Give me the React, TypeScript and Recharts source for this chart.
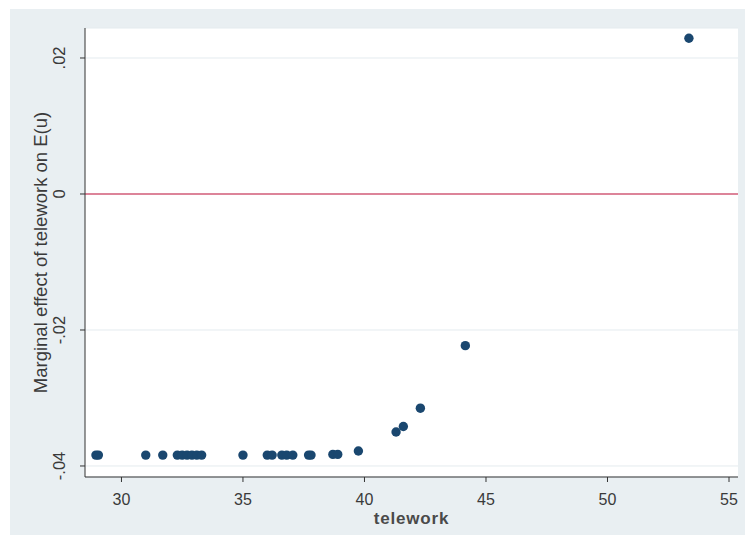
import { ScatterChart, Scatter, XAxis, YAxis, CartesianGrid, ReferenceLine } from "recharts";

const telework = [
  28.95, 29.05, 31.0, 31.7, 32.3, 32.5, 32.7, 32.9, 33.1, 33.3, 35.0, 36.0, 36.2,
  36.6, 36.8, 37.05, 37.7, 37.8, 38.7, 38.9, 39.75, 41.3, 41.6, 42.3, 44.15, 53.35,
];
const marginalEffect = [
  -0.0384, -0.0384, -0.0384, -0.0384, -0.0384, -0.0384, -0.0384, -0.0384, -0.0384,
  -0.0384, -0.0384, -0.0384, -0.0384, -0.0384, -0.0384, -0.0384, -0.0384, -0.0384,
  -0.0383, -0.0383, -0.0378, -0.035, -0.0342, -0.0315, -0.0223, 0.0229,
];
const xTicks = [30, 35, 40, 45, 50, 55];
const yTicks = [-0.04, -0.02, 0, 0.02];

const points = telework.map((t, i) => ({ telework: t, effect: marginalEffect[i] }));

// stata style: .02, -.04
const fmtY = (v: number) => {
  if (v === 0) return "0";
  const s = String(Math.abs(v)).replace(/^0/, "");
  return v < 0 ? "-" + s : s;
};

const textColor = "#3a3a3a";
const font = "'Liberation Sans', Arial, sans-serif";

function XTick(props: any) {
  const { x, y, payload } = props;
  return (
    <text x={x} y={y + 21} textAnchor="middle" fontSize={16} fill={textColor} fontFamily={font}>
      {payload.value}
    </text>
  );
}

function YTick(props: any) {
  const { x, y, payload } = props;
  const cx = x - 13;
  return (
    <text
      x={cx}
      y={y}
      transform={`rotate(-90, ${cx}, ${y})`}
      textAnchor="middle"
      fontSize={16.5}
      fill={textColor}
      fontFamily={font}
    >
      {fmtY(payload.value)}
    </text>
  );
}

export default function App() {
  return (
    <div style={{ position: "absolute", left: 0, top: 0, width: 747, height: 544, background: "#fff" }}>
      <div
        style={{
          position: "absolute",
          left: 10,
          top: 9,
          width: 735,
          height: 526,
          background: "#e9eff2",
        }}
      />
      <div style={{ position: "absolute", left: 0, top: 0 }}>
        <ScatterChart width={747} height={544} margin={{ top: 28, right: 9, bottom: 27, left: 45 }}>
          <CartesianGrid vertical={false} fill="#ffffff" stroke="#e4ebef" strokeWidth={1} />
          <XAxis
            type="number"
            dataKey="telework"
            domain={[28.5, 55.37]}
            ticks={xTicks}
            allowDataOverflow
            height={40}
            stroke="#333"
            tickSize={5}
            tick={<XTick />}
            label={{
              content: (p: any) => {
                const vb = p.viewBox;
                return (
                  <text
                    x={vb.x + vb.width / 2}
                    y={vb.y + 47}
                    textAnchor="middle"
                    fontSize={17}
                    fontWeight="bold"
                    letterSpacing={0.8}
                    fill="#4a4a4a"
                    fontFamily={font}
                  >
                    telework
                  </text>
                );
              },
            }}
          />
          <YAxis
            type="number"
            dataKey="effect"
            domain={[-0.04162, 0.02441]}
            ticks={yTicks}
            allowDataOverflow
            width={40}
            stroke="#333"
            tickSize={5}
            tick={<YTick />}
            label={{
              content: (p: any) => {
                const vb = p.viewBox;
                const cx = 47;
                const cy = vb.y + vb.height / 2;
                return (
                  <text
                    x={cx}
                    y={cy}
                    transform={`rotate(-90, ${cx}, ${cy})`}
                    textAnchor="middle"
                    fontSize={18.5}
                    fill={textColor}
                    fontFamily={font}
                  >
                    Marginal effect of telework on E(u)
                  </text>
                );
              },
            }}
          />
          <ReferenceLine y={0} stroke="#c8143c" strokeWidth={1.2} />
          <Scatter
            data={points}
            isAnimationActive={false}
            shape={(p: any) => <circle cx={p.cx} cy={p.cy} r={4.7} fill="#1a476f" />}
          />
        </ScatterChart>
      </div>
    </div>
  );
}
